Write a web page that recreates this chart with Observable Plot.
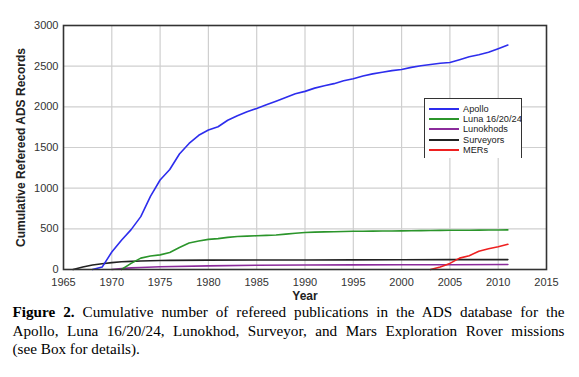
<!DOCTYPE html>
<html><head><meta charset="utf-8">
<script src="https://cdn.jsdelivr.net/npm/d3@7"></script>
<script src="https://cdn.jsdelivr.net/npm/@observablehq/plot@0.6"></script>
<style>
body{margin:0;background:#fff;}
#wrap{position:relative;width:579px;}
#legend{position:absolute;left:424px;top:98px;width:98px;height:60px;border:1.5px solid #333;border-bottom:none;background:#fff;box-sizing:border-box;font-family:Arial,"Liberation Sans",sans-serif;font-size:9.2px;color:#222;padding-top:5px;white-space:nowrap;}
#legend .row{display:flex;align-items:center;height:10.2px;}
#legend .sw{width:30px;height:0;border-top:2px solid;margin-left:4px;margin-right:4px;flex:none;}
#caption{font-family:"Liberation Serif","Times New Roman",serif;font-size:15.2px;line-height:18.5px;width:552px;margin-left:12.5px;color:#000;margin-top:1px;}
#caption .j{display:block;text-align:justify;text-align-last:justify;}
#caption .l{display:block;}
</style></head>
<body>
<div id="wrap"><div id="chart"></div><div id="legend"></div></div>
<div id="caption"><span class="j"><b>Figure 2.</b> Cumulative number of refereed publications in the ADS database for the</span><span class="j">Apollo, Luna 16/20/24, Lunokhod, Surveyor, and Mars Exploration Rover missions</span><span class="l">(see Box for details).</span></div>
<script>
const seriesNames = ["Apollo", "Luna 16/20/24", "Lunokhods", "Surveyors", "MERs"];
const seriesColors = ["#2d2ded", "#2b952b", "#8b2b9b", "#222222", "#ee2020"];

const apolloYears = [1968,1969,1970,1971,1972,1973,1974,1975,1976,1977,1978,1979,1980,1981,1982,1983,1984,1985,1986,1987,1988,1989,1990,1991,1992,1993,1994,1995,1996,1997,1998,1999,2000,2001,2002,2003,2004,2005,2006,2007,2008,2009,2010,2011];
const apolloValues = [0,30,215,360,490,650,900,1100,1230,1420,1550,1650,1715,1755,1835,1890,1940,1980,2025,2070,2115,2160,2190,2230,2260,2285,2320,2345,2380,2405,2425,2445,2460,2485,2505,2520,2535,2545,2580,2615,2640,2670,2715,2760];

const lunaYears = [1971,1972,1973,1974,1975,1976,1977,1978,1979,1980,1981,1982,1983,1984,1985,1986,1987,1988,1989,1990,1991,1992,1993,1994,1995,1996,1997,1998,1999,2000,2001,2002,2003,2004,2005,2006,2007,2008,2009,2010,2011];
const lunaValues = [0,75,140,165,180,210,270,325,350,370,380,395,405,410,415,420,425,435,445,455,460,462,465,467,470,470,472,473,474,475,476,478,480,481,482,482,483,484,485,485,487];

const lunokhodYears = [1970,1971,1972,1973,1975,1980,1985,1990,1995,2000,2005,2011];
const lunokhodValues = [0,12,20,25,33,45,52,55,57,58,59,61];

const surveyorYears = [1966,1967,1968,1969,1970,1971,1972,1973,1974,1975,1976,1980,1985,1990,1995,2000,2005,2011];
const surveyorValues = [0,30,55,70,85,95,100,105,108,110,112,115,116,117,118,120,121,122];

const merYears = [2003,2004,2005,2006,2007,2008,2009,2010,2011];
const merValues = [0,30,75,140,170,225,255,280,310];

const xTicks = [1965,1970,1975,1980,1985,1990,1995,2000,2005,2010,2015];
const yTicks = [0,500,1000,1500,2000,2500,3000];

const allYears = [apolloYears, lunaYears, lunokhodYears, surveyorYears, merYears];
const allValues = [apolloValues, lunaValues, lunokhodValues, surveyorValues, merValues];
const data = [];
seriesNames.forEach((name, i) => {
  allYears[i].forEach((yr, j) => data.push({series: name, year: yr, value: allValues[i][j]}));
});
const order = ["Lunokhods", "Surveyors", "Luna 16/20/24", "MERs", "Apollo"];

const chart = Plot.plot({
  width: 579, height: 302,
  marginLeft: 63, marginRight: 33, marginTop: 25, marginBottom: 33,
  style: {fontFamily: "Arial, 'Liberation Sans', sans-serif", fontSize: "11px", color: "#333", background: "#fff"},
  x: {domain: [1965, 2015]},
  y: {domain: [0, 3000]},
  color: {domain: seriesNames, range: seriesColors},
  marks: [
    Plot.gridX(xTicks.slice(1, -1), {stroke: "#cfcfcf", strokeOpacity: 1, strokeWidth: 1.2}),
    Plot.gridY(yTicks.slice(1, -1), {stroke: "#cfcfcf", strokeOpacity: 1, strokeWidth: 1.2}),
    Plot.axisX({ticks: xTicks, tickFormat: d => String(d), tickSize: 0, tickPadding: 9, label: "Year", labelAnchor: "center", labelOffset: 30, labelArrow: "none"}),
    Plot.axisY({ticks: yTicks, tickFormat: d => String(d), tickSize: 0, tickPadding: 5, label: "Cumulative Refereed ADS Records", labelAnchor: "center", labelOffset: 47, labelArrow: "none"}),
    ...order.map(s => Plot.line(data.filter(d => d.series === s), {x: "year", y: "value", stroke: "series", strokeWidth: 1.6, curve: "linear"})),
    Plot.frame({stroke: "#333", strokeWidth: 1.6})
  ]
});
document.getElementById("chart").appendChild(chart);
d3.select(chart).selectAll('[aria-label="x-axis label"] text, [aria-label="y-axis label"] text')
  .style("font-weight", "bold").style("font-size", "12px").attr("fill", "#222");

const legend = d3.select("#legend");
seriesNames.forEach((name, i) => {
  const row = legend.append("div").attr("class", "row");
  row.append("div").attr("class", "sw").style("border-top-color", seriesColors[i]);
  row.append("span").text(name);
});
</script>
</body></html>
